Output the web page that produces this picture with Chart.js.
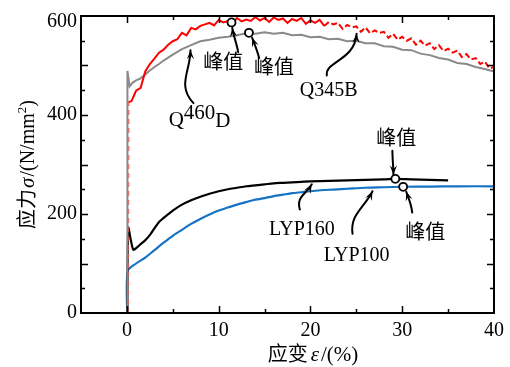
<!DOCTYPE html>
<html>
<head>
<meta charset="utf-8">
<script src="https://cdn.jsdelivr.net/npm/chart.js@4.4.1/dist/chart.umd.min.js"></script>
<style>
  html, body { margin: 0; padding: 0; background: #fff; }
  canvas { display: block; }
</style>
</head>
<body>
<canvas id="chart" width="510" height="367"></canvas>
<script>
// ---- axis ticks ----
const xTickValues = [-5, 0, 10, 20, 30, 40];
const xLabelValues = [0, 10, 20, 30, 40];
const yTickValues = [0, 200, 400, 600];
const xMajorMarks = [0, 10, 20, 30];
const xMinorMarks = [5, 15, 25, 35];
const yMajorMarks = [100, 200, 300, 400, 500];
const yMinorMarks = [50, 150, 250, 350, 450, 550];

// ---- Q460D (strain %, stress N/mm2) ----
const q460dStrain = [0.12, 0.18, 0.5, 1.0, 1.5, 2.0, 2.5, 3.0, 3.5, 4.0, 4.5, 5.0, 5.5, 6.0, 6.5, 7.0, 7.5, 8.0, 8.5, 9.0, 9.5, 10.0,
  10.5, 11.0, 11.5, 12.0, 12.5, 13.0, 13.5, 14.0, 14.5, 15.0, 15.5, 16.0, 16.5, 17.0, 17.5, 18.0, 18.5, 19.0, 19.5, 20.0,
  20.5, 21.0, 21.5, 22.0, 22.5, 23.0, 23.5, 24.0, 24.5, 25.0, 25.5, 26.0, 26.5, 27.0, 27.5, 28.0, 28.5, 29.0, 29.5, 30.0,
  30.5, 31.0, 31.5, 32.0, 32.5, 33.0, 33.5, 34.0, 34.5, 35.0, 35.5, 36.0, 36.5, 37.0, 37.5, 38.0, 38.5, 39.0, 39.5, 40.0];
const q460dStress = [0, 426, 428, 449, 455, 488, 503, 514, 526, 532, 542, 549, 553, 566, 561, 576, 573, 580, 583, 586, 581, 592,
  587, 590, 586, 596, 589, 593, 590, 598, 591, 596, 588, 597, 592, 595, 586, 594, 590, 596, 584, 591,
  586, 592, 580, 588, 583, 586, 574, 582, 577, 579, 568, 577, 565, 571, 566, 568, 556, 564, 552, 558,
  550, 555, 542, 550, 540, 545, 533, 541, 529, 534, 526, 530, 517, 523, 512, 515, 503, 508, 494, 497];

// ---- Q345B ----
const q345bStrain = [0.03, 0.06, 0.3, 0.6, 1.0, 1.5, 2.0, 2.5, 3.0, 3.5, 4.0, 5.0, 6.0, 7.0, 8.0, 9.0, 10.0, 11.0, 12.0, 13.0,
  14.0, 15.0, 16.0, 17.0, 18.0, 19.0, 20.0, 21.0, 22.0, 23.0, 24.0, 25.0, 26.0, 27.0, 28.0, 29.0, 30.0, 31.0, 32.0, 33.0,
  34.0, 35.0, 36.0, 37.0, 38.0, 39.0, 40.0];
const q345bStress = [0, 489, 458, 465, 470, 474, 482, 490, 497, 503, 510, 522, 533, 541, 549, 552, 556, 558, 561, 565,
  564, 567, 564, 566, 561, 562, 557, 558, 553, 554, 549, 550, 545, 545, 539, 538, 532, 531, 524, 521,
  515, 512, 505, 503, 497, 493, 488];

// ---- LYP160 ----
const lyp160Strain = [0.05, 0.15, 0.4, 0.7, 1.0, 1.5, 2.0, 2.6, 3.0, 3.5, 4.0, 4.4, 5.0, 6.0, 7.0, 8.0, 9.0, 10.0, 11.0, 12.0,
  13.0, 14.0, 15.0, 16.0, 17.0, 18.0, 19.0, 20.0, 22.0, 24.0, 26.0, 28.0, 29.25, 31.0, 33.0, 35.0];
const lyp160Stress = [0, 172, 150, 128, 131, 139, 147, 160, 171, 184, 192, 198, 207, 219, 228, 235, 241, 246, 250, 253,
  256, 258, 260, 262, 263, 264, 265, 266, 267, 268, 269, 270, 271, 270, 269, 268];

// ---- LYP100 ----
const lyp100Strain = [0.02, 0.1, 1.0, 2.0, 3.0, 4.0, 5.0, 6.0, 7.0, 8.0, 9.0, 10.0, 11.0, 12.0, 13.0, 14.0, 15.0, 16.0, 17.0,
  18.0, 19.0, 20.0, 22.0, 24.0, 26.0, 28.0, 30.1, 33.0, 36.0, 40.0];
const lyp100Stress = [0, 85, 100, 112, 127, 142, 156, 168, 180, 190, 199, 207, 213, 219, 224, 229, 232, 236, 239,
  242, 244, 246, 249, 251, 253, 254, 255, 255.5, 256, 256];

// ---- peak points ----
const peakStrain = [11.4, 13.3, 29.25, 30.1];
const peakStress = [587, 566, 271, 255];

const SERIF = '"Liberation Serif", "Times New Roman", serif';
const CJK = '"Noto Sans CJK SC", "Noto Sans CJK JP", sans-serif';

const toPoints = (xs, ys) => xs.map((v, i) => ({ x: v, y: ys[i] }));

// text callouts: [text, strain, stress]
const peakLabels = [
  ['峰值', 10.51, 509],
  ['峰值', 16.03, 499],
  ['峰值', 29.36, 355],
  ['峰值', 32.5, 164]
];
const seriesLabels = [
  ['Q345B', 21.99, 452],
  ['LYP160', 19.07, 170],
  ['LYP100', 25.03, 118]
];
// curved arrows: start, two control points, tip (strain, stress)
const arrows = [
  [[7.26, 424], [5.42, 460], [6.93, 489], [6.93, 531]],
  [[12.13, 527], [11.92, 547], [11.59, 562], [11.48, 576]],
  [[14.41, 515], [14.19, 531], [13.87, 545], [13.65, 556]],
  [[21.78, 480], [21.56, 509], [24.81, 509], [25.03, 564]],
  [[18.85, 209], [18.42, 235], [19.5, 239], [20.15, 260]],
  [[24.59, 160], [24.27, 199], [25.89, 213], [26.76, 246]],
  [[28.93, 328], [28.93, 312], [29.04, 296], [29.04, 280]],
  [[31.09, 203], [30.98, 221], [30.66, 233], [30.44, 245]]
];

function drawPieces(ctx, pieces, startX, baseline) {
  let cx = startX;
  for (const p of pieces) {
    ctx.font = p.font;
    ctx.fillText(p.text, cx, baseline + (p.dy || 0));
    cx += ctx.measureText(p.text).width + (p.gap || 0);
  }
}
function piecesWidth(ctx, pieces) {
  let w = 0;
  for (const p of pieces) { ctx.font = p.font; w += ctx.measureText(p.text).width + (p.gap || 0); }
  return w;
}

const framePlugin = {
  id: 'frame',
  afterDatasetsDraw(chart) {
    const { ctx, chartArea: a, scales: { x, y } } = chart;
    ctx.save();
    ctx.strokeStyle = '#000';
    ctx.lineWidth = 2;
    ctx.strokeRect(a.left, a.top, a.right - a.left, a.bottom - a.top);
    ctx.lineWidth = 1.5;
    ctx.beginPath();
    const xMark = (v, len) => {
      const p = Math.round(x.getPixelForValue(v)) + 0.5;
      ctx.moveTo(p, a.bottom); ctx.lineTo(p, a.bottom - len);
      ctx.moveTo(p, a.top); ctx.lineTo(p, a.top + len);
    };
    const yMark = (v, len) => {
      const p = Math.round(y.getPixelForValue(v)) + 0.5;
      ctx.moveTo(a.left, p); ctx.lineTo(a.left + len, p);
      ctx.moveTo(a.right, p); ctx.lineTo(a.right - len, p);
    };
    xMajorMarks.forEach(v => xMark(v, 7));
    xMinorMarks.forEach(v => xMark(v, 4));
    yMajorMarks.forEach(v => yMark(v, 7));
    yMinorMarks.forEach(v => yMark(v, 4));
    ctx.stroke();

    // axis titles
    ctx.fillStyle = '#000';
    ctx.textBaseline = 'alphabetic';
    ctx.textAlign = 'left';
    const xTitle = [
      { text: '应变', font: '20px ' + CJK, gap: 3 },
      { text: 'ε', font: 'italic 21px ' + SERIF, gap: 2 },
      { text: '/(%)', font: '21px ' + SERIF }
    ];
    const xw = piecesWidth(ctx, xTitle);
    drawPieces(ctx, xTitle, 313 - xw / 2, 361);

    const yTitle = [
      { text: '应力', font: '20px ' + CJK, gap: 1 },
      { text: 'σ', font: 'italic 21px ' + SERIF, gap: 1 },
      { text: '/(N/mm', font: '20px ' + SERIF },
      { text: '2', font: '13px ' + SERIF, dy: -8 },
      { text: ')', font: '20px ' + SERIF }
    ];
    const yw = piecesWidth(ctx, yTitle);
    ctx.translate(27, (a.top + a.bottom) / 2);
    ctx.rotate(-Math.PI / 2);
    drawPieces(ctx, yTitle, -yw / 2, 7);
    ctx.restore();
  }
};

const calloutPlugin = {
  id: 'callouts',
  afterDraw(chart) {
    const { ctx, scales: { x, y } } = chart;
    const px = v => x.getPixelForValue(v);
    const py = v => y.getPixelForValue(v);
    ctx.save();
    ctx.fillStyle = '#000';
    ctx.strokeStyle = '#000';
    ctx.textAlign = 'center';
    ctx.textBaseline = 'middle';

    ctx.font = '20px ' + CJK;
    peakLabels.forEach(([t, sx, sy]) => ctx.fillText(t, px(sx), py(sy)));
    ctx.font = '20px ' + SERIF;
    seriesLabels.forEach(([t, sx, sy]) => ctx.fillText(t, px(sx), py(sy) + 1));

    // Q460D with raised grade digits
    ctx.textAlign = 'left';
    ctx.textBaseline = 'alphabetic';
    let qx = px(4.55);
    const qb = py(377);
    ctx.font = '21px ' + SERIF;
    ctx.fillText('Q', qx, qb);
    qx += ctx.measureText('Q').width;
    ctx.fillText('460', qx, qb - 7);
    qx += ctx.measureText('460').width;
    ctx.fillText('D', qx, qb + 1);

    // arrows
    ctx.lineWidth = 2;
    ctx.lineCap = 'round';
    arrows.forEach(pts => {
      const p = pts.map(([sx, sy]) => [px(sx), py(sy)]);
      ctx.beginPath();
      ctx.moveTo(p[0][0], p[0][1]);
      ctx.bezierCurveTo(p[1][0], p[1][1], p[2][0], p[2][1], p[3][0], p[3][1]);
      ctx.stroke();
      const ang = Math.atan2(p[3][1] - p[2][1], p[3][0] - p[2][0]);
      const L = 9, W = 3.6;
      const tx = p[3][0], ty = p[3][1];
      const bx = tx - L * Math.cos(ang), by = ty - L * Math.sin(ang);
      ctx.beginPath();
      ctx.moveTo(tx, ty);
      ctx.lineTo(bx + W * Math.sin(ang), by - W * Math.cos(ang));
      ctx.lineTo(tx - 0.6 * L * Math.cos(ang), ty - 0.6 * L * Math.sin(ang));
      ctx.lineTo(bx - W * Math.sin(ang), by + W * Math.cos(ang));
      ctx.closePath();
      ctx.fill();
    });
    ctx.restore();
  }
};

new Chart(document.getElementById('chart'), {
  type: 'line',
  data: {
    datasets: [
      {
        label: 'peaks',
        data: toPoints(peakStrain, peakStress),
        showLine: false,
        pointRadius: 4,
        pointBackgroundColor: '#fff',
        pointBorderColor: '#000',
        pointBorderWidth: 1.8,
        order: 0
      },
      {
        label: 'Q460D',
        data: toPoints(q460dStrain, q460dStress),
        borderColor: '#ff0000',
        borderWidth: 2,
        pointRadius: 0,
        tension: 0,
        segment: {
          // elastic rise drawn as a faint dashed trace; later necking zone is broken
          borderDash: ctx => ctx.p0DataIndex === 0 ? [5, 4] : (ctx.p0.parsed.x > 21 ? [6, 3] : []),
          borderColor: ctx => ctx.p0DataIndex === 0 ? 'rgba(230,90,90,0.75)' : '#ff0000'
        },
        order: 1
      },
      {
        label: 'Q345B',
        data: toPoints(q345bStrain, q345bStress),
        borderColor: '#8a8a8a',
        borderWidth: 2,
        pointRadius: 0,
        tension: 0,
        order: 2
      },
      {
        label: 'LYP160',
        data: toPoints(lyp160Strain, lyp160Stress),
        borderColor: '#000',
        borderWidth: 2.2,
        pointRadius: 0,
        tension: 0.3,
        order: 3
      },
      {
        label: 'LYP100',
        data: toPoints(lyp100Strain, lyp100Stress),
        borderColor: '#1473c4',
        borderWidth: 2.2,
        pointRadius: 0,
        tension: 0.3,
        order: 4
      }
    ]
  },
  options: {
    responsive: false,
    animation: false,
    devicePixelRatio: 1,
    events: [],
    layout: { padding: { top: 9, right: 14, left: 0, bottom: 0 }, autoPadding: false },
    plugins: { legend: { display: false }, tooltip: { enabled: false }, title: { display: false } },
    scales: {
      x: {
        type: 'linear',
        min: -5,
        max: 40,
        afterBuildTicks: s => { s.ticks = xTickValues.map(v => ({ value: v })); },
        afterFit: s => { s.height = 54; },
        grid: { display: false, drawTicks: false, tickLength: 0 },
        border: { display: false },
        ticks: {
          padding: 6,
          maxRotation: 0,
          autoSkip: false,
          color: '#000',
          font: { family: SERIF, size: 20 },
          callback: v => xLabelValues.includes(v) ? String(v) : ''
        }
      },
      y: {
        type: 'linear',
        min: 0,
        max: 600,
        afterBuildTicks: s => { s.ticks = yTickValues.map(v => ({ value: v })); },
        afterFit: s => { s.width = 81; },
        grid: { display: false, drawTicks: false, tickLength: 0 },
        border: { display: false },
        ticks: {
          padding: 4,
          autoSkip: false,
          color: '#000',
          // the top label sits just below the frame corner
          font: c => ({ family: SERIF, size: 20, lineHeight: c.tick && c.tick.value === 600 ? 0.6 : 1.2 }),
          callback: v => v === 600 ? ['', String(v)] : String(v)
        }
      }
    }
  },
  plugins: [framePlugin, calloutPlugin]
});
</script>
</body>
</html>
